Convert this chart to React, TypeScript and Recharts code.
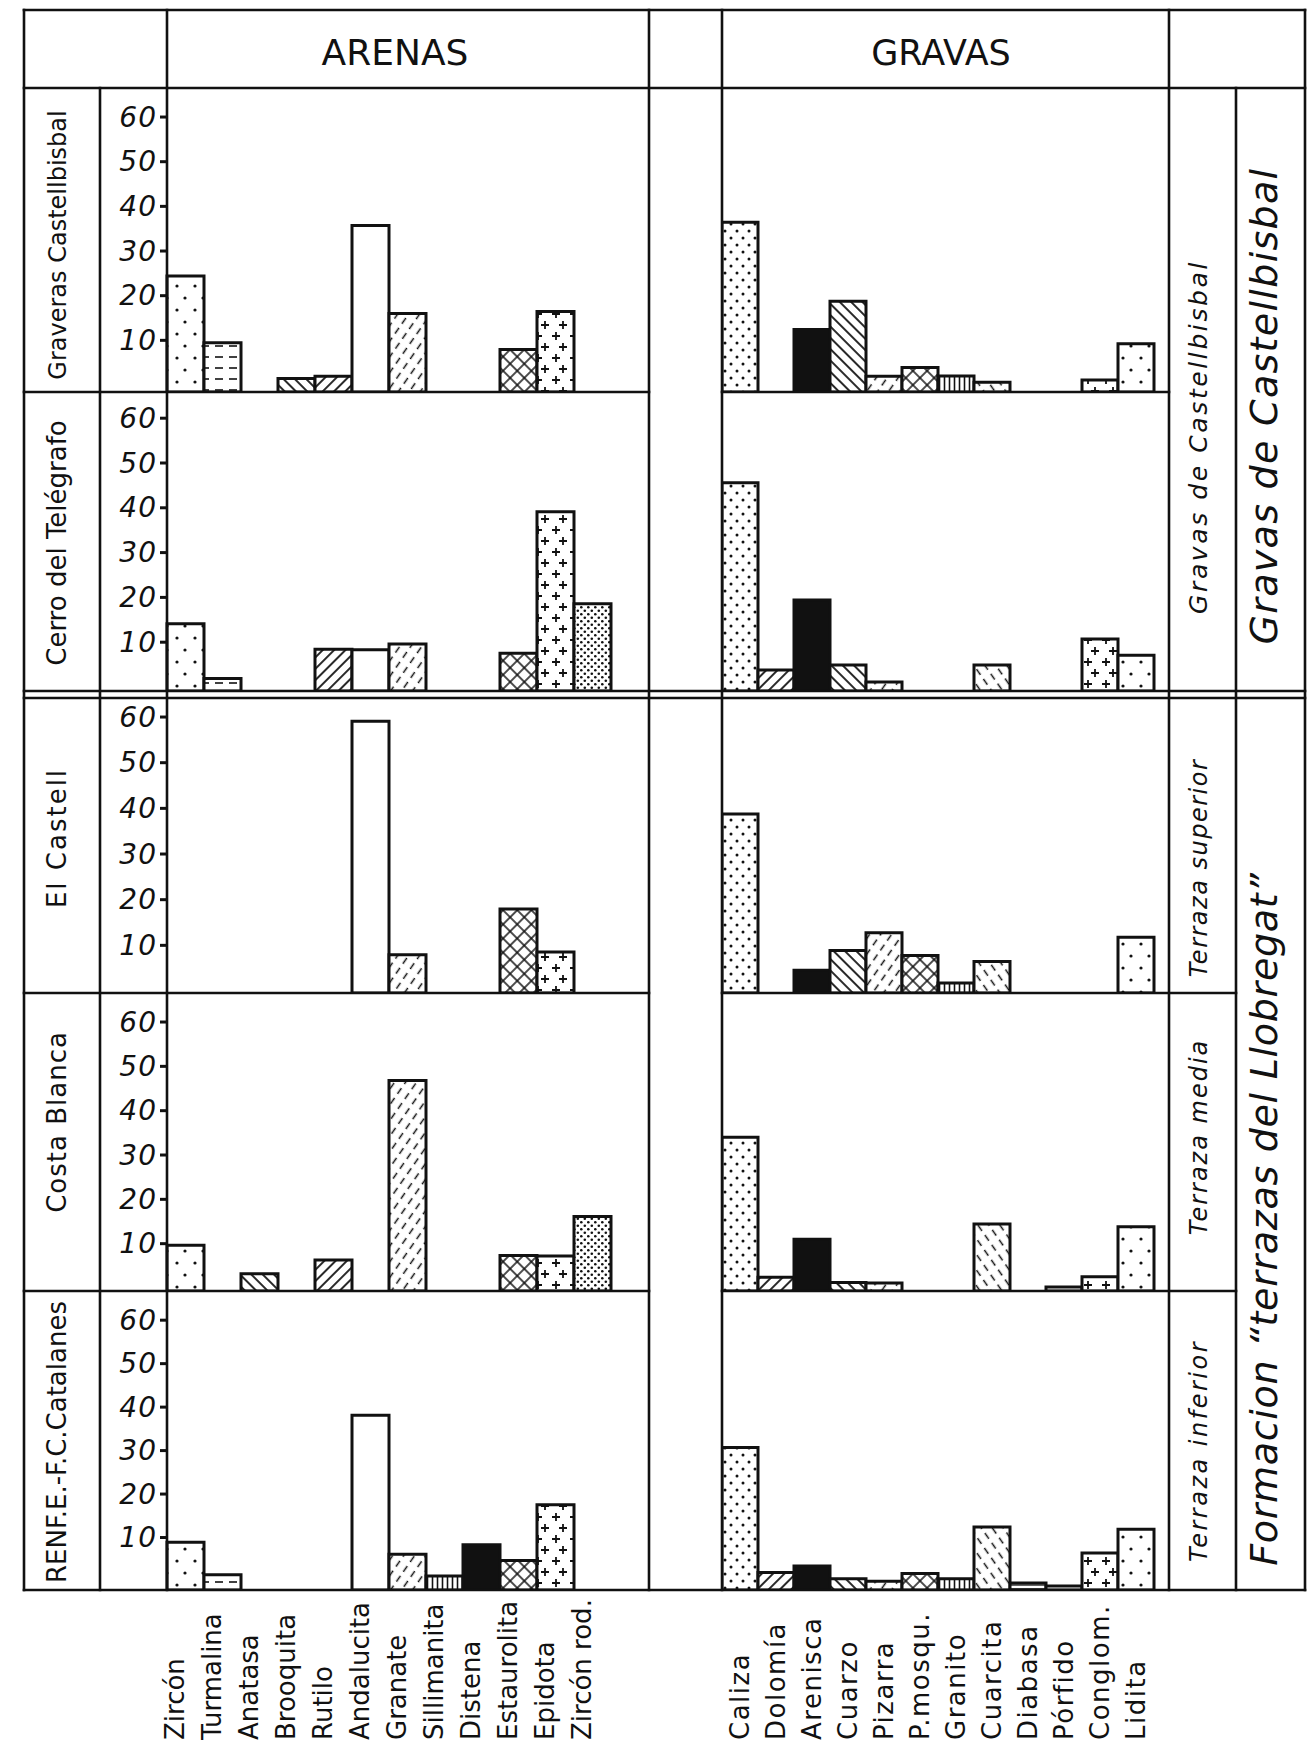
import { BarChart, Bar, XAxis, YAxis, Cell } from 'recharts';

// categories
const arenasMinerals = ['Zircón', 'Turmalina', 'Anatasa', 'Brooquita', 'Rutilo', 'Andalucita', 'Granate', 'Sillimanita', 'Distena', 'Estaurolita', 'Epidota', 'Zircón rod.'];
const gravasRocks = ['Caliza', 'Dolomía', 'Arenisca', 'Cuarzo', 'Pizarra', 'P.mosqu.', 'Granito', 'Cuarcita', 'Diabasa', 'Pórfido', 'Conglom.', 'Lidita'];
const yTicks = [10, 20, 30, 40, 50, 60];

const sites = ['Graveras Castellbisbal', 'Cerro del Telégrafo', 'El Castell', 'Costa Blanca', 'RENF.E.-F.C.Catalanes'];

// percentages (sands)
const arenasGraveras = [26, 11, 0, 3, 3.5, 37.3, 17.6, 0, 0, 9.5, 18, 0];
const arenasCerro = [15, 2.8, 0, 0, 9.3, 9.2, 10.5, 0, 0, 8.4, 40, 19.5];
const arenasCastell = [0, 0, 0, 0, 0, 59.5, 8.4, 0, 0, 18.4, 9, 0];
const arenasCosta = [10.3, 0, 3.9, 0, 7, 0, 47.5, 0, 0, 8, 7.9, 16.8];
const arenasRenfe = [11, 3.5, 0, 0, 0, 40.2, 8.2, 3.2, 10.4, 6.8, 19.6, 0];

// percentages (gravels)
const gravasGraveras = [38, 0, 14, 20.3, 3.5, 5.5, 3.6, 2.2, 0, 0, 2.7, 10.8];
const gravasCerro = [46.5, 4.7, 20.3, 5.8, 2, 0, 0, 5.8, 0, 0, 11.6, 8];
const gravasCastell = [39.2, 0, 5, 9.3, 13.2, 8.2, 2.2, 6.9, 0, 0, 0, 12.2];
const gravasCosta = [34.7, 3.1, 11.7, 1.9, 1.8, 0, 0, 15.1, 0, 0.9, 3.2, 14.5];
const gravasRenfe = [32.8, 4, 5.5, 2.6, 2, 3.8, 2.6, 14.5, 1.6, 0.9, 8.5, 14];

const arenasBySite = [arenasGraveras, arenasCerro, arenasCastell, arenasCosta, arenasRenfe];
const gravasBySite = [gravasGraveras, gravasCerro, gravasCastell, gravasCosta, gravasRenfe];

// fill pattern per category
const arenasFills = ['dotsSparse', 'dashesH', 'hatchBack', 'hatchBack', 'hatchFwd', 'white', 'hatchFwdDashed', 'linesV', 'solid', 'cross', 'plus', 'dotsDense'];
const gravasFills = ['dotsMedium', 'hatchFwd', 'solid', 'hatchBack', 'hatchFwdDashed', 'cross', 'linesV', 'hatchBackDashed', 'linesH', 'white', 'plus', 'dotsSparse'];

const INK = '#111';
const FONT = '"DejaVu Sans", sans-serif';

// row geometry: top of cell, baseline, px per unit, shift of the hand drawn ticks
const rows = [
  { top: 88, base: 392, unit: 4.466, shift: -7, labelY: 245, labelSize: 24, ls: 0 },
  { top: 392, base: 691, unit: 4.48, shift: -4, labelY: 543, labelSize: 26, ls: 0 },
  { top: 698, base: 993, unit: 4.566, shift: -2, labelY: 838, labelSize: 26, ls: 2 },
  { top: 993, base: 1291, unit: 4.433, shift: -3, labelY: 1122, labelSize: 26, ls: 1 },
  { top: 1291, base: 1590, unit: 4.347, shift: -9, labelY: 1442, labelSize: 26, ls: 0 },
];

const fillOf = (id: string) => (id === 'solid' ? INK : id === 'white' ? '#fff' : `url(#${id})`);

function ValueTick(props: any) {
  const { y, payload, shift } = props;
  const yy = y + shift;
  return (
    <g>
      <line x1={60} x2={67} y1={yy} y2={yy} stroke={INK} strokeWidth={3} />
      <text x={57} y={yy} textAnchor="end" dominantBaseline="central" fontStyle="italic" fontSize={28} fontFamily={FONT} fill={INK} letterSpacing={1}>
        {payload.value}
      </text>
    </g>
  );
}

function NameTick(props: any) {
  const { x, payload, dx, baseY, ls } = props;
  const xx = x + dx;
  return (
    <text x={xx} y={baseY} transform={`rotate(-90 ${xx} ${baseY})`} fontSize={26} fontFamily={FONT} fill={INK} letterSpacing={ls}>
      {payload.value}
    </text>
  );
}

function SiteRow({ index }: { index: number }) {
  const r = rows[index];
  const isLast = index === rows.length - 1;
  const h = r.base - r.top;
  const yMax = h / r.unit;
  const extra = isLast ? 1746 - r.base : 0;
  const labelBase = 1740 - r.top;
  const aData = arenasMinerals.map((name, i) => ({ name, value: arenasBySite[index][i] }));
  const gData = gravasRocks.map((name, i) => ({ name, value: gravasBySite[index][i] }));

  return (
    <>
      <div style={{ position: 'absolute', left: 100, top: r.top }}>
        <BarChart width={549} height={h + extra} data={aData} margin={{ top: 0, right: 0, bottom: 0, left: 0 }} barCategoryGap={0} barGap={0}>
          <XAxis
            dataKey="name"
            hide={!isLast}
            height={extra}
            padding={{ left: 0, right: 38 }}
            axisLine={false}
            tickLine={false}
            interval={0}
            tick={(p: any) => <NameTick {...p} dx={-2} baseY={labelBase} ls={0} />}
          />
          <YAxis
            width={67}
            domain={[0, yMax]}
            ticks={yTicks}
            allowDataOverflow
            axisLine={false}
            tickLine={false}
            tick={(p: any) => <ValueTick {...p} shift={r.shift} />}
          />
          <Bar dataKey="value" stroke={INK} strokeWidth={3} isAnimationActive={false}>
            {aData.map((d, i) => (
              <Cell key={d.name} fill={fillOf(arenasFills[i])} />
            ))}
          </Bar>
        </BarChart>
      </div>
      <div style={{ position: 'absolute', left: 722, top: r.top }}>
        <BarChart width={447} height={h + extra} data={gData} margin={{ top: 0, right: 0, bottom: 0, left: 0 }} barCategoryGap={0} barGap={0}>
          <XAxis
            dataKey="name"
            hide={!isLast}
            height={extra}
            padding={{ left: 0, right: 15 }}
            axisLine={false}
            tickLine={false}
            interval={0}
            tick={(p: any) => <NameTick {...p} dx={9} baseY={labelBase} ls={1.5} />}
          />
          <YAxis hide domain={[0, yMax]} allowDataOverflow />
          <Bar dataKey="value" stroke={INK} strokeWidth={3} isAnimationActive={false}>
            {gData.map((d, i) => (
              <Cell key={d.name} fill={fillOf(gravasFills[i])} />
            ))}
          </Bar>
        </BarChart>
      </div>
    </>
  );
}

function Patterns() {
  const bg = (w: number, h: number) => <rect width={w} height={h} fill="#fff" />;
  return (
    <defs>
      <pattern id="dotsSparse" width={18} height={24} patternUnits="userSpaceOnUse">
        {bg(18, 24)}
        <circle cx={5} cy={6} r={1.6} fill={INK} />
        <circle cx={13} cy={18} r={1.6} fill={INK} />
      </pattern>
      <pattern id="dotsMedium" width={12} height={14} patternUnits="userSpaceOnUse">
        {bg(12, 14)}
        <circle cx={3} cy={3} r={1.5} fill={INK} />
        <circle cx={9} cy={10} r={1.5} fill={INK} />
      </pattern>
      <pattern id="dotsDense" width={7} height={7} patternUnits="userSpaceOnUse">
        {bg(7, 7)}
        <circle cx={1.8} cy={1.8} r={1.3} fill={INK} />
        <circle cx={5.3} cy={5.3} r={1.3} fill={INK} />
      </pattern>
      <pattern id="dashesH" width={14} height={11} patternUnits="userSpaceOnUse">
        {bg(14, 11)}
        <line x1={3} x2={11} y1={5} y2={5} stroke={INK} strokeWidth={1.6} />
      </pattern>
      <pattern id="hatchFwd" width={8} height={8} patternUnits="userSpaceOnUse" patternTransform="rotate(45)">
        {bg(8, 8)}
        <line x1={4} x2={4} y1={0} y2={8} stroke={INK} strokeWidth={1.8} />
      </pattern>
      <pattern id="hatchBack" width={8} height={8} patternUnits="userSpaceOnUse" patternTransform="rotate(-45)">
        {bg(8, 8)}
        <line x1={4} x2={4} y1={0} y2={8} stroke={INK} strokeWidth={1.8} />
      </pattern>
      <pattern id="hatchFwdDashed" width={9} height={12} patternUnits="userSpaceOnUse" patternTransform="rotate(35)">
        {bg(9, 12)}
        <line x1={4.5} x2={4.5} y1={1} y2={8} stroke={INK} strokeWidth={1.5} />
      </pattern>
      <pattern id="hatchBackDashed" width={9} height={12} patternUnits="userSpaceOnUse" patternTransform="rotate(-35)">
        {bg(9, 12)}
        <line x1={4.5} x2={4.5} y1={1} y2={8} stroke={INK} strokeWidth={1.5} />
      </pattern>
      <pattern id="cross" width={10} height={10} patternUnits="userSpaceOnUse" patternTransform="rotate(45)">
        {bg(10, 10)}
        <line x1={5} x2={5} y1={0} y2={10} stroke={INK} strokeWidth={1.5} />
        <line x1={0} x2={10} y1={5} y2={5} stroke={INK} strokeWidth={1.5} />
      </pattern>
      <pattern id="linesV" width={5} height={10} patternUnits="userSpaceOnUse">
        {bg(5, 10)}
        <line x1={2.5} x2={2.5} y1={0} y2={10} stroke={INK} strokeWidth={1.6} />
      </pattern>
      <pattern id="linesH" width={10} height={4} patternUnits="userSpaceOnUse">
        {bg(10, 4)}
        <line x1={0} x2={10} y1={2} y2={2} stroke={INK} strokeWidth={1.3} />
      </pattern>
      <pattern id="plus" width={18} height={22} patternUnits="userSpaceOnUse">
        {bg(18, 22)}
        <path d="M6 2 V10 M2 6 H10 M13 13 V21 M9 17 H17" stroke={INK} strokeWidth={1.8} fill="none" />
      </pattern>
    </defs>
  );
}

const hLines: [number, number, number][] = [
  [10, 24, 1305], [88, 24, 1305], [392, 24, 649], [392, 722, 1169],
  [691, 24, 1305], [698, 24, 1305], [993, 24, 649], [993, 722, 1236],
  [1291, 24, 649], [1291, 722, 1236], [1590, 24, 1305],
];
const vLines: [number, number, number][] = [
  [24, 10, 1590], [100, 88, 1590], [167, 10, 1590], [649, 10, 1590],
  [722, 10, 1590], [1169, 10, 1590], [1236, 88, 1590], [1305, 10, 1590],
];

function VText({ x, y, size, italic, ls, children }: any) {
  return (
    <text
      x={x}
      y={y}
      transform={`rotate(-90 ${x} ${y})`}
      textAnchor="middle"
      fontSize={size}
      fontStyle={italic ? 'italic' : 'normal'}
      fontFamily={FONT}
      fill={INK}
      letterSpacing={ls}
    >
      {children}
    </text>
  );
}

export default function App() {
  return (
    <div style={{ position: 'absolute', left: 0, top: 0, width: 1314, height: 1746, background: '#fff', overflow: 'hidden' }}>
      {rows.map((_, i) => (
        <SiteRow key={i} index={i} />
      ))}
      <svg width={1314} height={1746} style={{ position: 'absolute', left: 0, top: 0, pointerEvents: 'none' }}>
        <Patterns />
        <g stroke={INK} strokeWidth={2.6} strokeLinecap="square">
          {hLines.map(([y, x1, x2], i) => (
            <line key={`h${i}`} x1={x1} x2={x2} y1={y} y2={y} />
          ))}
          {vLines.map(([x, y1, y2], i) => (
            <line key={`v${i}`} x1={x} x2={x} y1={y1} y2={y2} />
          ))}
        </g>
        <text x={395} y={65} textAnchor="middle" fontSize={36} fontFamily={FONT} fill={INK}>ARENAS</text>
        <text x={941} y={65} textAnchor="middle" fontSize={35} fontFamily={FONT} fill={INK}>GRAVAS</text>
        {sites.map((s, i) => (
          <VText key={s} x={66} y={rows[i].labelY} size={rows[i].labelSize} ls={rows[i].ls}>{s}</VText>
        ))}
        <VText x={1207} y={437} size={25} italic ls={2.6}>Gravas de Castellbisbal</VText>
        <VText x={1207} y={868} size={24} italic ls={1.5}>Terraza superior</VText>
        <VText x={1207} y={1137} size={24} italic ls={2}>Terraza media</VText>
        <VText x={1207} y={1451} size={24} italic ls={2.5}>Terraza inferior</VText>
        <VText x={1277} y={406} size={38} italic ls={1.3}>Gravas de Castellbisbal</VText>
        <VText x={1277} y={1219} size={38} italic ls={0.7}>Formacion “terrazas del Llobregat”</VText>
      </svg>
    </div>
  );
}
